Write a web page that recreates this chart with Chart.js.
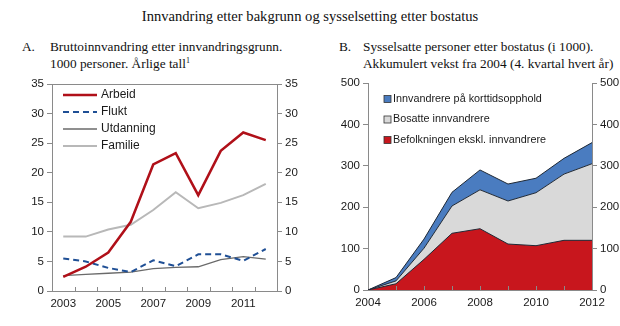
<!DOCTYPE html>
<html>
<head>
<meta charset="utf-8">
<script src="https://cdn.jsdelivr.net/npm/chart.js@4/dist/chart.umd.min.js"></script>
<style>
  body { margin: 0; background: #fff; }
  #wrap { position: relative; width: 620px; height: 326px; overflow: hidden; }
  .t { position: absolute; font-family: "Liberation Serif", "Times New Roman", serif; color: #111; white-space: nowrap; }
  #title { top: 8px; left: 0; width: 620px; text-align: center; font-size: 14.6px; }
  .sub { font-size: 13.3px; line-height: 17px; }
  sup { font-size: 8px; line-height: 0; }
  canvas { position: absolute; top: 70px; }
</style>
</head>
<body>
<div id="wrap">
  <div id="title" class="t">Innvandring etter bakgrunn og sysselsetting etter bostatus</div>
  <div class="t sub" style="left:22px; top:38px;">A.</div>
  <div class="t sub" style="left:50px; top:38px;">Bruttoinnvandring etter innvandringsgrunn.<br>1000 personer. Årlige tall<sup>1</sup></div>
  <div class="t sub" style="left:339px; top:38px;">B.</div>
  <div class="t sub" style="left:363px; top:38px;">Sysselsatte personer etter bostatus (i 1000).<br>Akkumulert vekst fra 2004 (4. kvartal hvert år)</div>
  <canvas id="chartA" width="310" height="256" style="left:0"></canvas>
  <canvas id="chartB" width="310" height="256" style="left:310px"></canvas>
</div>
<script>
// Panel A: gross immigration by reason, thousands
const yearsA = ['2003', '2004', '2005', '2006', '2007', '2008', '2009', '2010', '2011', '2012'];
const arbeid = [2.4, 4.1, 6.5, 11.7, 21.4, 23.3, 16.2, 23.7, 26.8, 25.5];
const flukt = [5.5, 5.0, 3.9, 3.2, 5.2, 4.2, 6.2, 6.2, 5.1, 7.1];
const utdanning = [2.6, 2.8, 3.0, 3.2, 3.8, 4.0, 4.1, 5.3, 5.8, 5.4];
const familie = [9.2, 9.2, 10.4, 11.2, 13.7, 16.7, 14.0, 14.9, 16.2, 18.1];

// Panel B: employed persons by residence status, cumulative growth since 2004
const yearsB = [2004, 2005, 2006, 2007, 2008, 2009, 2010, 2011, 2012];
const befolkning = [0, 15, 74, 137, 148, 111, 107, 120, 120];
const bosatte = [0, 7, 27, 66, 94, 104, 128, 160, 185];
const korttid = [0, 8, 22, 33, 48, 41, 35, 38, 51];

const tickFont = { family: '"Liberation Sans", Arial, sans-serif', size: 11.5 };
const axisColor = '#8a8a8a';
const textColor = '#1a1a1a';

function yAxis(max, step, pos, width) {
  return {
    position: pos,
    min: 0, max: max,
    ticks: { stepSize: step, font: tickFont, color: textColor, padding: 3 },
    grid: { drawOnChartArea: false, tickLength: 5, color: axisColor },
    border: { color: axisColor },
    afterFit: s => { s.width = width; }
  };
}

// small tick marks that point up into the plot from the x axis
function innerTicks(frame) {
  return {
    id: 'innerTicks',
    afterDraw(chart) {
      const c = chart.ctx, a = chart.chartArea;
      c.save();
      c.strokeStyle = axisColor;
      c.lineWidth = 1;
      c.beginPath();
      frame(chart).forEach(x => {
        c.moveTo(Math.round(x) + 0.5, a.bottom);
        c.lineTo(Math.round(x) + 0.5, a.bottom - 4);
      });
      if (chart.canvas.id === 'chartA') {
        c.moveTo(a.left, a.top + 0.5);
        c.lineTo(a.right, a.top + 0.5);
      }
      c.stroke();
      c.restore();
    }
  };
}

const legendA = {
  id: 'legendA',
  afterDraw(chart) {
    const c = chart.ctx, a = chart.chartArea;
    c.save();
    c.font = '12px "Liberation Sans", Arial, sans-serif';
    c.textBaseline = 'middle';
    chart.data.datasets.forEach((d, i) => {
      const y = a.top + 11 + i * 17;
      c.strokeStyle = d.borderColor;
      c.lineWidth = d.borderWidth;
      c.setLineDash(d.borderDash || []);
      c.beginPath();
      c.moveTo(a.left + 11, y);
      c.lineTo(a.left + 45, y);
      c.stroke();
      c.setLineDash([]);
      c.fillStyle = textColor;
      c.fillText(d.label, a.left + 49, y);
    });
    c.restore();
  }
};

new Chart(document.getElementById('chartA'), {
  type: 'line',
  data: {
    labels: yearsA,
    datasets: [
      { label: 'Arbeid', data: arbeid, borderColor: '#b01019', borderWidth: 2.5 },
      { label: 'Flukt', data: flukt, borderColor: '#1f4f95', borderWidth: 2, borderDash: [6, 4] },
      { label: 'Utdanning', data: utdanning, borderColor: '#6a6a6a', borderWidth: 1.3 },
      { label: 'Familie', data: familie, borderColor: '#b8b8b8', borderWidth: 2 }
    ]
  },
  options: {
    responsive: false,
    animation: false,
    layout: { padding: { top: 14, left: 0, right: 0, bottom: 0 } },
    elements: { point: { radius: 0 }, line: { tension: 0 } },
    plugins: { legend: { display: false }, tooltip: { enabled: false } },
    scales: {
      x: {
        offset: true,
        grid: { offset: true, drawOnChartArea: false, drawTicks: false, color: axisColor },
        border: { color: axisColor },
        ticks: {
          autoSkip: false, maxRotation: 0, padding: 6, font: tickFont, color: textColor,
          callback: (v, i) => (i % 2 === 0 ? yearsA[i] : '')
        },
        afterFit: s => { s.height = 35; }
      },
      y: yAxis(35, 5, 'left', 52),
      y2: yAxis(35, 5, 'right', 33)
    }
  },
  plugins: [legendA, innerTicks(chart => {
    const s = chart.scales.x, half = (s.getPixelForValue(1) - s.getPixelForValue(0)) / 2;
    return yearsA.slice(1).map((_, i) => s.getPixelForValue(i) + half);
  })]
});

const legendB = {
  id: 'legendB',
  afterDraw(chart) {
    const c = chart.ctx, a = chart.chartArea;
    c.save();
    c.font = '10.8px "Liberation Sans", Arial, sans-serif';
    c.textBaseline = 'middle';
    const order = [2, 1, 0];
    order.forEach((di, row) => {
      const d = chart.data.datasets[di];
      const y = a.top + 16 + row * 20.5;
      c.fillStyle = d.backgroundColor;
      c.fillRect(a.left + 16, y - 3.5, 7, 7);
      c.strokeStyle = '#333';
      c.lineWidth = 0.8;
      c.strokeRect(a.left + 16, y - 3.5, 7, 7);
      c.fillStyle = textColor;
      c.fillText(d.label, a.left + 25, y);
    });
    c.restore();
  }
};

const toPoints = arr => arr.map((v, i) => ({ x: yearsB[i], y: v }));

new Chart(document.getElementById('chartB'), {
  type: 'line',
  data: {
    datasets: [
      { label: 'Befolkningen ekskl. innvandrere', data: toPoints(befolkning), backgroundColor: '#c8161d', fill: 'origin' },
      { label: 'Bosatte innvandrere', data: toPoints(bosatte), backgroundColor: '#d9d9d9', fill: '-1' },
      { label: 'Innvandrere på korttidsopphold', data: toPoints(korttid), backgroundColor: '#4a7cc0', fill: '-1' }
    ]
  },
  options: {
    responsive: false,
    animation: false,
    layout: { padding: { top: 13, left: 0, right: 0, bottom: 0 } },
    elements: { point: { radius: 0 }, line: { tension: 0, borderColor: '#1e2835', borderWidth: 1 } },
    plugins: { legend: { display: false }, tooltip: { enabled: false } },
    scales: {
      x: {
        type: 'linear', min: 2004, max: 2012,
        grid: { drawOnChartArea: false, drawTicks: false, color: axisColor },
        border: { color: axisColor },
        ticks: {
          stepSize: 1, padding: 6, font: tickFont, color: textColor, maxRotation: 0,
          callback: v => (v % 2 === 0 ? String(v) : '')
        },
        afterFit: s => { s.height = 36; }
      },
      y: Object.assign(yAxis(500, 100, 'left', 58), { stacked: true }),
      y2: yAxis(500, 100, 'right', 28)
    }
  },
  plugins: [legendB, innerTicks(chart => yearsB.slice(1, -1).map(v => chart.scales.x.getPixelForValue(v)))]
});
</script>
</body>
</html>
